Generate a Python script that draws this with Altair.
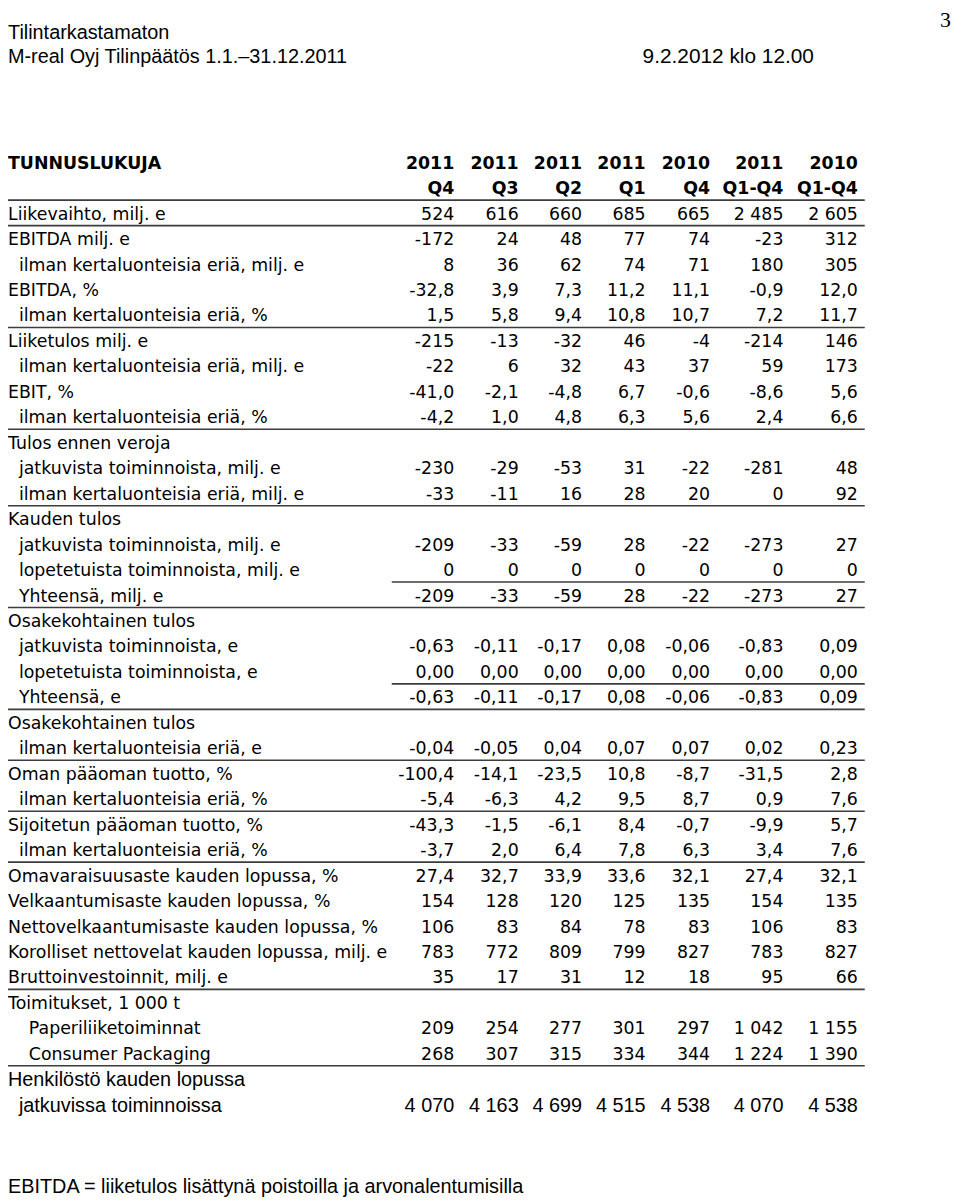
import altair as alt
import pandas as pd

# ---------------- data ----------------
page_header_1 = "Tilintarkastamaton"
page_header_2 = "M-real Oyj Tilinpäätös 1.1.–31.12.2011"
page_date = "9.2.2012 klo 12.00"
page_number = "3"
table_title = "TUNNUSLUKUJA"
footnote = "EBITDA = liiketulos lisättynä poistoilla ja arvonalentumisilla"

col_year = ["2011", "2011", "2011", "2011", "2010", "2011", "2010"]
col_period = ["Q4", "Q3", "Q2", "Q1", "Q4", "Q1-Q4", "Q1-Q4"]

labels = [
    "Liikevaihto, milj. e",
    "EBITDA milj. e",
    "ilman kertaluonteisia eriä, milj. e",
    "EBITDA, %",
    "ilman kertaluonteisia eriä, %",
    "Liiketulos milj. e",
    "ilman kertaluonteisia eriä, milj. e",
    "EBIT, %",
    "ilman kertaluonteisia eriä, %",
    "Tulos ennen veroja",
    "jatkuvista toiminnoista, milj. e",
    "ilman kertaluonteisia eriä, milj. e",
    "Kauden tulos",
    "jatkuvista toiminnoista, milj. e",
    "lopetetuista toiminnoista, milj. e",
    "Yhteensä, milj. e",
    "Osakekohtainen tulos",
    "jatkuvista toiminnoista, e",
    "lopetetuista toiminnoista, e",
    "Yhteensä, e",
    "Osakekohtainen tulos",
    "ilman kertaluonteisia eriä, e",
    "Oman pääoman tuotto, %",
    "ilman kertaluonteisia eriä, %",
    "Sijoitetun pääoman tuotto, %",
    "ilman kertaluonteisia eriä, %",
    "Omavaraisuusaste kauden lopussa, %",
    "Velkaantumisaste kauden lopussa, %",
    "Nettovelkaantumisaste kauden lopussa, %",
    "Korolliset nettovelat kauden lopussa, milj. e",
    "Bruttoinvestoinnit, milj. e",
    "Toimitukset, 1 000 t",
    "Paperiliiketoiminnat",
    "Consumer Packaging",
    "Henkilöstö kauden lopussa",
    "jatkuvissa toiminnoissa",
]
indent = [0, 0, 1, 0, 1, 0, 1, 0, 1, 0, 1, 1, 0, 1, 1, 1, 0, 1, 1, 1,
          0, 1, 0, 1, 0, 1, 0, 0, 0, 0, 0, 0, 2, 2, 0, 1]

q4_2011 = ["524", "-172", "8", "-32,8", "1,5", "-215", "-22", "-41,0", "-4,2", "",
           "-230", "-33", "", "-209", "0", "-209", "", "-0,63", "0,00", "-0,63", "",
           "-0,04", "-100,4", "-5,4", "-43,3", "-3,7", "27,4", "154", "106", "783", "35",
           "", "209", "268", "", "4 070"]
q3_2011 = ["616", "24", "36", "3,9", "5,8", "-13", "6", "-2,1", "1,0", "",
           "-29", "-11", "", "-33", "0", "-33", "", "-0,11", "0,00", "-0,11", "",
           "-0,05", "-14,1", "-6,3", "-1,5", "2,0", "32,7", "128", "83", "772", "17",
           "", "254", "307", "", "4 163"]
q2_2011 = ["660", "48", "62", "7,3", "9,4", "-32", "32", "-4,8", "4,8", "",
           "-53", "16", "", "-59", "0", "-59", "", "-0,17", "0,00", "-0,17", "",
           "0,04", "-23,5", "4,2", "-6,1", "6,4", "33,9", "120", "84", "809", "31",
           "", "277", "315", "", "4 699"]
q1_2011 = ["685", "77", "74", "11,2", "10,8", "46", "43", "6,7", "6,3", "",
           "31", "28", "", "28", "0", "28", "", "0,08", "0,00", "0,08", "",
           "0,07", "10,8", "9,5", "8,4", "7,8", "33,6", "125", "78", "799", "12",
           "", "301", "334", "", "4 515"]
q4_2010 = ["665", "74", "71", "11,1", "10,7", "-4", "37", "-0,6", "5,6", "",
           "-22", "20", "", "-22", "0", "-22", "", "-0,06", "0,00", "-0,06", "",
           "0,07", "-8,7", "8,7", "-0,7", "6,3", "32,1", "135", "83", "827", "18",
           "", "297", "344", "", "4 538"]
fy_2011 = ["2 485", "-23", "180", "-0,9", "7,2", "-214", "59", "-8,6", "2,4", "",
           "-281", "0", "", "-273", "0", "-273", "", "-0,83", "0,00", "-0,83", "",
           "0,02", "-31,5", "0,9", "-9,9", "3,4", "27,4", "154", "106", "783", "95",
           "", "1 042", "1 224", "", "4 070"]
fy_2010 = ["2 605", "312", "305", "12,0", "11,7", "146", "173", "5,6", "6,6", "",
           "48", "92", "", "27", "0", "27", "", "0,09", "0,00", "0,09", "",
           "0,23", "2,8", "7,6", "5,7", "7,6", "32,1", "135", "83", "827", "66",
           "", "1 155", "1 390", "", "4 538"]

# rows (0 = year header, 1 = period header, data start at 2) followed by a rule
rules_full = [1, 2, 6, 10, 13, 17, 21, 23, 25, 27, 32, 35]
rules_partial = [16, 20]

# ---------------- tables ----------------
columns = [q4_2011, q3_2011, q2_2011, q1_2011, q4_2010, fy_2011, fy_2010]
num_rows = []
for ci, col in enumerate(columns):
    for ri, v in enumerate(col):
        if v != "":
            num_rows.append({"row": ri + 2, "ci": ci, "text": v})
num_df = pd.DataFrame(num_rows)

head_rows = []
for ci in range(len(col_year)):
    head_rows.append({"row": 0, "ci": ci, "text": col_year[ci]})
    head_rows.append({"row": 1, "ci": ci, "text": col_period[ci]})
head_df = pd.DataFrame(head_rows)

lab_df = pd.DataFrame({"row": [i + 2 for i in range(len(labels))],
                       "indent": indent, "label": labels})
title_df = pd.DataFrame({"row": [0], "indent": [0], "label": [table_title]})

rule_df = pd.DataFrame({"row": rules_full + rules_partial,
                        "kind": ["full"] * len(rules_full) + ["partial"] * len(rules_partial)})

# ---------------- scales ----------------
W, H = 952, 1196
yscale = alt.Scale(domain=[0, 37], range=[152, 1102], nice=False, zero=False)
colscale = alt.Scale(domain=[0, 1, 2, 3, 4, 5, 6],
                     range=[450, 515, 579, 643, 708, 782, 857], nice=False, zero=False)
indscale = alt.Scale(domain=[0, 1, 2], range=[0, 11, 21], nice=False, zero=False)

TABLE_FONT = "DejaVu Sans"
PAGE_FONT = "Liberation Sans, Arial, Helvetica, sans-serif"
FS = 17.5
INK = "#000000"

Y = alt.Y("row:Q", scale=yscale, axis=None)

nums_main = alt.Chart(num_df).transform_filter("datum.row < 36").mark_text(
    align="right", baseline="middle", font=TABLE_FONT, fontSize=FS, color=INK
).encode(x=alt.X("ci:Q", scale=colscale, axis=None), y=Y, text="text:N")

nums_low = alt.Chart(num_df).transform_filter("datum.row >= 36").mark_text(
    align="right", baseline="middle", font=PAGE_FONT, fontSize=20, color=INK
).encode(x=alt.X("ci:Q", scale=colscale, axis=None), y=Y, text="text:N")

heads = alt.Chart(head_df).mark_text(
    align="right", baseline="middle", font=TABLE_FONT, fontSize=FS,
    fontWeight="bold", color=INK
).encode(x=alt.X("ci:Q", scale=colscale, axis=None), y=Y, text="text:N")

labs_main = alt.Chart(lab_df).transform_filter("datum.row < 36").mark_text(
    align="left", baseline="middle", font=TABLE_FONT, fontSize=FS, color=INK
).encode(x=alt.X("indent:Q", scale=indscale, axis=None), y=Y, text="label:N")

labs_low = alt.Chart(lab_df).transform_filter("datum.row >= 36").mark_text(
    align="left", baseline="middle", font=PAGE_FONT, fontSize=20, color=INK
).encode(x=alt.X("indent:Q", scale=indscale, axis=None), y=Y, text="label:N")

title_lab = alt.Chart(title_df).mark_text(
    align="left", baseline="middle", font=TABLE_FONT, fontSize=FS,
    fontWeight="bold", color=INK
).encode(x=alt.X("indent:Q", scale=indscale, axis=None), y=Y, text="label:N")

RULE_COLOR = "#3c3c3c"
rules_f = alt.Chart(rule_df).transform_filter("datum.kind == 'full'").transform_calculate(
    ry="datum.row + 0.43"
).mark_rule(color=RULE_COLOR, strokeWidth=1.6).encode(
    x=alt.value(0), x2=alt.value(864), y=alt.Y("ry:Q", scale=yscale, axis=None))

rules_p = alt.Chart(rule_df).transform_filter("datum.kind == 'partial'").transform_calculate(
    ry="datum.row + 0.43"
).mark_rule(color=RULE_COLOR, strokeWidth=1.6).encode(
    x=alt.value(387), x2=alt.value(864), y=alt.Y("ry:Q", scale=yscale, axis=None))

page_df = pd.DataFrame({"t": [0]})
hdr1 = alt.Chart(page_df).mark_text(
    align="left", baseline="middle", font=PAGE_FONT, fontSize=20, color=INK,
    text=page_header_1).encode(x=alt.value(0), y=alt.value(20))
hdr2 = alt.Chart(page_df).mark_text(
    align="left", baseline="middle", font=PAGE_FONT, fontSize=20, color=INK,
    text=page_header_2).encode(x=alt.value(0), y=alt.value(44))
hdr3 = alt.Chart(page_df).mark_text(
    align="left", baseline="middle", font=PAGE_FONT, fontSize=21, color=INK,
    text=page_date).encode(x=alt.value(640), y=alt.value(44))
pnum = alt.Chart(page_df).mark_text(
    align="right", baseline="top", font="Liberation Serif, Times New Roman, serif",
    fontSize=22, color=INK, text=page_number).encode(x=alt.value(951), y=alt.value(-3))
foot = alt.Chart(page_df).mark_text(
    align="left", baseline="middle", font=PAGE_FONT, fontSize=20, color=INK,
    text=footnote).encode(x=alt.value(0), y=alt.value(1184))

chart = alt.layer(
    rules_f, rules_p, title_lab, heads, labs_main, labs_low, nums_main, nums_low,
    hdr1, hdr2, hdr3, pnum, foot
).resolve_scale(x="independent").properties(
    width=W, height=H, padding=0, autosize="none", background="white"
).configure_view(stroke=None)

chart.save("out.html", embed_options={"renderer": "svg", "actions": False})
